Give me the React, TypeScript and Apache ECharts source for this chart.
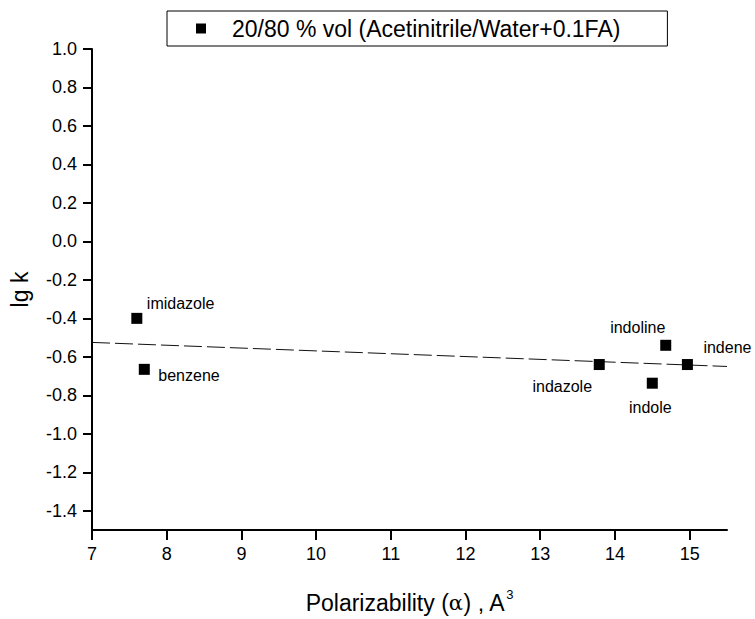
import React, { useEffect, useRef } from "react";
import * as echarts from "echarts";

const compounds = ["imidazole", "benzene", "indazole", "indole", "indoline", "indene"];
const polarizability = [7.6, 7.7, 13.79, 14.5, 14.68, 14.97];
const lgK = [-0.4, -0.665, -0.64, -0.737, -0.54, -0.64];
const fitX = [7, 15.5];
const fitY = [-0.525, -0.65];
const xTicks = [7, 8, 9, 10, 11, 12, 13, 14, 15];
const yTicks = [-1.4, -1.2, -1.0, -0.8, -0.6, -0.4, -0.2, 0.0, 0.2, 0.4, 0.6, 0.8, 1.0];
const seriesName = "20/80 % vol (Acetinitrile/Water+0.1FA)";

const labelPlacement: Record<string, { align: string; offset: number[] }> = {
  imidazole: { align: "left", offset: [10, -15] },
  benzene: { align: "left", offset: [14, 6] },
  indazole: { align: "center", offset: [-37, 22] },
  indole: { align: "center", offset: [-2, 24] },
  indoline: { align: "center", offset: [-28, -18] },
  indene: { align: "left", offset: [16, -17] },
};

const FONT = "'Liberation Sans', Arial, sans-serif";

export default function App() {
  const ref = useRef<HTMLDivElement>(null);
  useEffect(() => {
    if (!ref.current) return;
    const chart = echarts.init(ref.current, undefined, { renderer: "svg" });
    const points = compounds.map((name, i) => ({
      name,
      value: [polarizability[i], lgK[i]],
      label: {
        show: true,
        formatter: name,
        position: "inside",
        align: labelPlacement[name].align,
        verticalAlign: "middle",
        offset: labelPlacement[name].offset,
        color: "#000",
        fontSize: 16,
        fontFamily: FONT,
      },
    }));
    chart.setOption({
      animation: false,
      backgroundColor: "#fff",
      textStyle: { fontFamily: FONT },
      grid: { left: 91, right: 28, top: 49, bottom: 83 },
      legend: {
        left: 167,
        top: 11,
        data: [{ name: seriesName, icon: "rect", itemStyle: { color: "#000", opacity: 1 } }],
        itemWidth: 10,
        itemHeight: 10,
        itemGap: 0,
        padding: [6, 47, 6, 29],
        borderColor: "#000",
        borderWidth: 1,
        textStyle: { fontSize: 23, color: "#000", fontFamily: FONT, padding: [0, 0, 0, 21] },
      },
      xAxis: {
        type: "value",
        min: 7,
        max: 15.5,
        splitLine: { show: false },
        axisLine: { onZero: false, lineStyle: { color: "#000", width: 2 } },
        axisTick: { show: true, length: 10, customValues: xTicks, lineStyle: { color: "#000", width: 2 } },
        axisLabel: { fontSize: 18, color: "#000", margin: 15, customValues: xTicks },
        name: "{a|Polarizability (}{g|α}{a|) , A}{s|3}",
        nameLocation: "middle",
        nameGap: 58,
        nameTextStyle: {
          rich: {
            a: { fontSize: 23, color: "#000", fontFamily: FONT },
            g: { fontSize: 21, color: "#000", fontFamily: "'DejaVu Serif', serif" },
            s: { fontSize: 13, color: "#000", fontFamily: FONT, verticalAlign: "top", padding: [0, 0, 16, 1] },
          },
        },
      },
      yAxis: {
        type: "value",
        min: -1.5,
        max: 1.0,
        splitLine: { show: false },
        axisLine: { onZero: false, lineStyle: { color: "#000", width: 2 } },
        axisTick: { show: true, length: 9, customValues: yTicks, lineStyle: { color: "#000", width: 2 } },
        axisLabel: {
          fontSize: 18,
          color: "#000",
          margin: 15,
          customValues: yTicks,
          formatter: (v: number) => v.toFixed(1),
        },
        name: "lg k",
        nameLocation: "middle",
        nameGap: 61,
        nameRotate: 90,
        nameTextStyle: { fontSize: 23, color: "#000", fontFamily: FONT },
      },
      series: [
        {
          name: seriesName,
          type: "scatter",
          symbol: "rect",
          symbolSize: 11,
          itemStyle: { color: "#000", opacity: 1 },
          data: points,
          z: 3,
        },
        {
          name: "fit",
          type: "line",
          data: fitX.map((x, i) => [x, fitY[i]]),
          symbol: "none",
          lineStyle: { color: "#111", width: 1, type: [18, 5] },
          z: 2,
        },
      ],
    });
    return () => chart.dispose();
  }, []);
  return (
    <div
      ref={ref}
      style={{ position: "fixed", left: 0, top: 0, width: 755, height: 619 }}
    />
  );
}
